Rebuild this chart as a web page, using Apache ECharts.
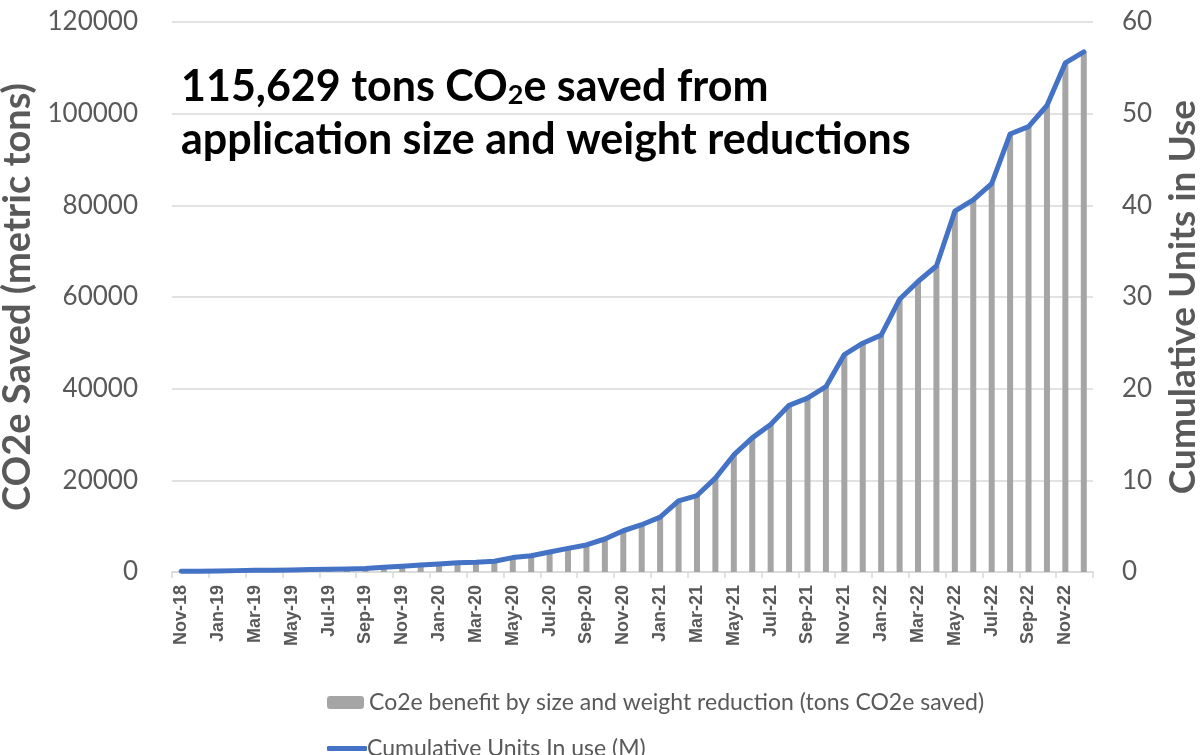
<!DOCTYPE html>
<html><head><meta charset="utf-8">
<script src="https://cdn.jsdelivr.net/npm/echarts@6/dist/echarts.min.js"></script>
<style>html,body{margin:0;padding:0;background:#fff}#c{width:1204px;height:755px}</style>
</head><body><div id="c"></div>
<script>
const months = ['Nov-18','Dec-18','Jan-19','Feb-19','Mar-19','Apr-19','May-19','Jun-19','Jul-19','Aug-19','Sep-19','Oct-19','Nov-19','Dec-19',
'Jan-20','Feb-20','Mar-20','Apr-20','May-20','Jun-20','Jul-20','Aug-20','Sep-20','Oct-20','Nov-20','Dec-20',
'Jan-21','Feb-21','Mar-21','Apr-21','May-21','Jun-21','Jul-21','Aug-21','Sep-21','Oct-21','Nov-21','Dec-21',
'Jan-22','Feb-22','Mar-22','Apr-22','May-22','Jun-22','Jul-22','Aug-22','Sep-22','Oct-22','Nov-22','Dec-22'];
const co2eSaved = [150,180,220,290,360,400,440,510,580,650,730,1020,1240,1530,
1750,2040,2110,2330,3130,3560,4360,5160,5890,7200,9010,10320,
11970,15510,16670,20480,25530,29250,32180,36350,37940,40420,47430,49910,
51680,59490,63380,66750,78720,81200,84750,95560,97160,101770,111080,113500];
const unitsInUse = [0.08,0.09,0.11,0.15,0.18,0.2,0.22,0.26,0.29,0.33,0.37,0.51,0.62,0.77,
0.88,1.02,1.06,1.17,1.57,1.78,2.18,2.58,2.95,3.6,4.5,5.16,
5.99,7.76,8.34,10.24,12.77,14.63,16.09,18.18,18.97,20.21,23.72,24.96,
25.84,29.75,31.69,33.38,39.36,40.6,42.38,47.78,48.58,50.89,55.54,56.75];
const leftTicks = {min:0, max:120000, interval:20000};
const rightTicks = {min:0, max:60, interval:10};
const barName = 'Co2e benefit by size and weight reduction (tons CO2e saved)';
const lineName = 'Cumulative Units In use (M)';
const FONT = 'Lato';
const chart = echarts.init(document.getElementById('c'));
chart.setOption({
  animation:false,
  textStyle:{fontFamily:FONT},
  title:{
    left:176, top:56,
    text:'{a|115,629 tons CO}{s|2}{a|e saved from}\n{a|application size and weight reductions}',
    textStyle:{
      rich:{
        a:{fontFamily:FONT,fontWeight:'bold',fontSize:43,color:'#000',lineHeight:53},
        s:{fontFamily:FONT,fontWeight:'bold',fontSize:27,color:'#000',lineHeight:53,padding:[16,0,0,0]}
      }
    }
  },
  legend:[
    {data:[barName],left:322,top:686,itemWidth:37,itemHeight:13,itemGap:8,
     textStyle:{fontSize:23,color:'#595959',fontFamily:FONT}},
    {data:[{name:lineName,icon:'roundRect'}],left:322,top:732,itemWidth:40,itemHeight:5,
     textStyle:{fontSize:23,color:'#595959',fontFamily:FONT,padding:[0,0,0,-5]}}
  ],
  grid:{left:172,right:111,top:22,bottom:183,containLabel:false,outerBoundsMode:'none'},
  xAxis:{
    type:'category',data:months,boundaryGap:true,
    axisLine:{lineStyle:{color:'#d9d9d9',width:1.5}},
    axisTick:{show:true,interval:1,length:6,lineStyle:{color:'#d9d9d9',width:1.5}},
    axisLabel:{interval:1,rotate:90,margin:13,hideOverlap:false,
      fontSize:18,fontWeight:'bold',color:'#595959',fontFamily:'Liberation Sans'}
  },
  yAxis:[
    {type:'value',min:leftTicks.min,max:leftTicks.max,interval:leftTicks.interval,
     name:'CO2e Saved (metric tons)',nameLocation:'middle',nameGap:131,nameRotate:90,
     nameTextStyle:{fontSize:38,fontWeight:'bold',color:'#595959'},
     axisLabel:{fontSize:26,color:'#595959',margin:34,formatter:(v)=>String(v)},
     splitLine:{lineStyle:{color:'#d9d9d9',width:1.5}},
     axisLine:{show:false},axisTick:{show:false}},
    {type:'value',min:rightTicks.min,max:rightTicks.max,interval:rightTicks.interval,
     name:'Cumulative Units in Use',nameLocation:'middle',nameGap:72,nameRotate:90,
     nameTextStyle:{fontSize:37,fontWeight:'bold',color:'#595959'},
     axisLabel:{fontSize:26,color:'#595959',margin:29},
     splitLine:{show:false},axisLine:{show:false},axisTick:{show:false}}
  ],
  series:[
    {name:barName,type:'bar',data:co2eSaved,yAxisIndex:0,barWidth:6,
     itemStyle:{color:'#a5a5a5'}},
    {name:lineName,type:'line',data:unitsInUse,yAxisIndex:1,symbol:'none',
     lineStyle:{color:'#4472c4',width:5,cap:'round',join:'round'},itemStyle:{color:'#4472c4'}}
  ]
});
</script></body></html>
